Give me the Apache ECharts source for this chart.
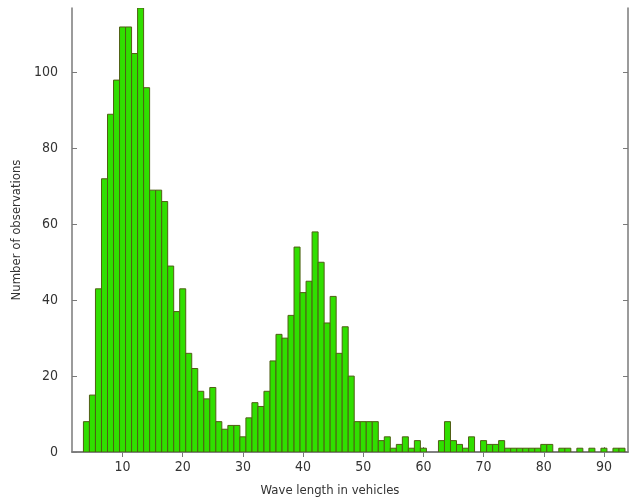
<!DOCTYPE html>
<html>
<head>
<meta charset="utf-8">
<script src="https://cdn.jsdelivr.net/npm/echarts@6/dist/echarts.min.js"></script>
<style>
html, body { margin: 0; padding: 0; background: #ffffff; }
#chart { width: 629px; height: 497px; }
</style>
</head>
<body>
<div id="chart"></div>
<script>
// bin centres (wave length in vehicles) and counts per bin
const binCenters = [];
for (let k = 4; k <= 93; k++) binCenters.push(k);
const counts = [
    8, 15, 43, 72, 89, 98, 112, 112, 105, 117,   // 4-13
    96, 69, 69, 66, 49, 37, 43, 26, 22, 16,      // 14-23
    14, 17, 8, 6, 7, 7, 4, 9, 13, 12,            // 24-33
    16, 24, 31, 30, 36, 54, 42, 45, 58, 50,      // 34-43
    34, 41, 26, 33, 20, 8, 8, 8, 8, 3,           // 44-53
    4, 1, 2, 4, 1, 3, 1, 0, 0, 3,                // 54-63
    8, 3, 2, 1, 4, 0, 3, 2, 2, 3,                // 64-73
    1, 1, 1, 1, 1, 1, 2, 2, 0, 1,                // 74-83
    1, 0, 1, 0, 1, 0, 1, 0, 1, 1                 // 84-93
];
const xTicks = [10, 20, 30, 40, 50, 60, 70, 80, 90];
const yTicks = [0, 20, 40, 60, 80, 100];

const chart = echarts.init(document.getElementById('chart'));
const font = "'Liberation Sans Narrow', 'DejaVu Sans Condensed', 'Liberation Sans', sans-serif";
const axisGray = '#7a7a7a';

const barData = binCenters.map((x, i) => [x, counts[i]]);

const option = {
    animation: false,
    backgroundColor: '#ffffff',
    grid: { left: 72, right: 1, top: 8, bottom: 45, outerBoundsMode: 'none', containLabel: false },
    xAxis: [{
        type: 'value',
        min: 1.6,
        max: 94,
        position: 'bottom',
        name: 'Wave length in vehicles',
        nameLocation: 'middle',
        nameGap: 32,
        nameTextStyle: { fontFamily: font, fontSize: 13, color: '#333', padding: [0, 40, 0, 0] },
        axisLine: { lineStyle: { color: axisGray, width: 1.5 } },
        axisTick: { inside: true, length: 5, customValues: xTicks, lineStyle: { color: axisGray } },
        axisLabel: { customValues: xTicks, margin: 8, fontFamily: font, fontSize: 14, color: '#333' },
        splitLine: { show: false }
    }, {
        type: 'value',
        min: 1.6,
        max: 94,
        position: 'top',
        axisLine: { lineStyle: { color: axisGray, width: 1.5 } },
        axisTick: { inside: true, length: 5, customValues: xTicks, lineStyle: { color: axisGray } },
        axisLabel: { show: false },
        splitLine: { show: false }
    }],
    yAxis: [{
        type: 'value',
        min: 0,
        max: 117,
        position: 'left',
        name: 'Number of observations',
        nameLocation: 'middle',
        nameGap: 46,
        nameTextStyle: { fontFamily: font, fontSize: 13, color: '#333' },
        axisLine: { show: true, lineStyle: { color: axisGray, width: 1.5 } },
        axisTick: { show: true, inside: true, length: 5, customValues: yTicks, lineStyle: { color: axisGray } },
        axisLabel: { customValues: yTicks, margin: 14, fontFamily: font, fontSize: 14, color: '#333' },
        splitLine: { show: false }
    }, {
        type: 'value',
        min: 0,
        max: 117,
        position: 'right',
        axisLine: { show: true, lineStyle: { color: axisGray, width: 1.5 } },
        axisTick: { show: true, inside: true, length: 5, customValues: yTicks, lineStyle: { color: axisGray } },
        axisLabel: { show: false },
        splitLine: { show: false }
    }],
    series: [{
        type: 'custom',
        xAxisIndex: 0,
        yAxisIndex: 0,
        clip: true,
        data: barData,
        renderItem: function (params, api) {
            const x = api.value(0);
            const y = api.value(1);
            if (!y) return null;
            const p0 = api.coord([x - 0.5, y]);
            const p1 = api.coord([x + 0.5, 0]);
            return {
                type: 'rect',
                shape: { x: p0[0], y: p0[1], width: p1[0] - p0[0], height: p1[1] - p0[1] },
                style: { fill: '#30df00', stroke: '#4f5f14', lineWidth: 1 }
            };
        }
    }]
};
chart.setOption(option);
</script>
</body>
</html>
